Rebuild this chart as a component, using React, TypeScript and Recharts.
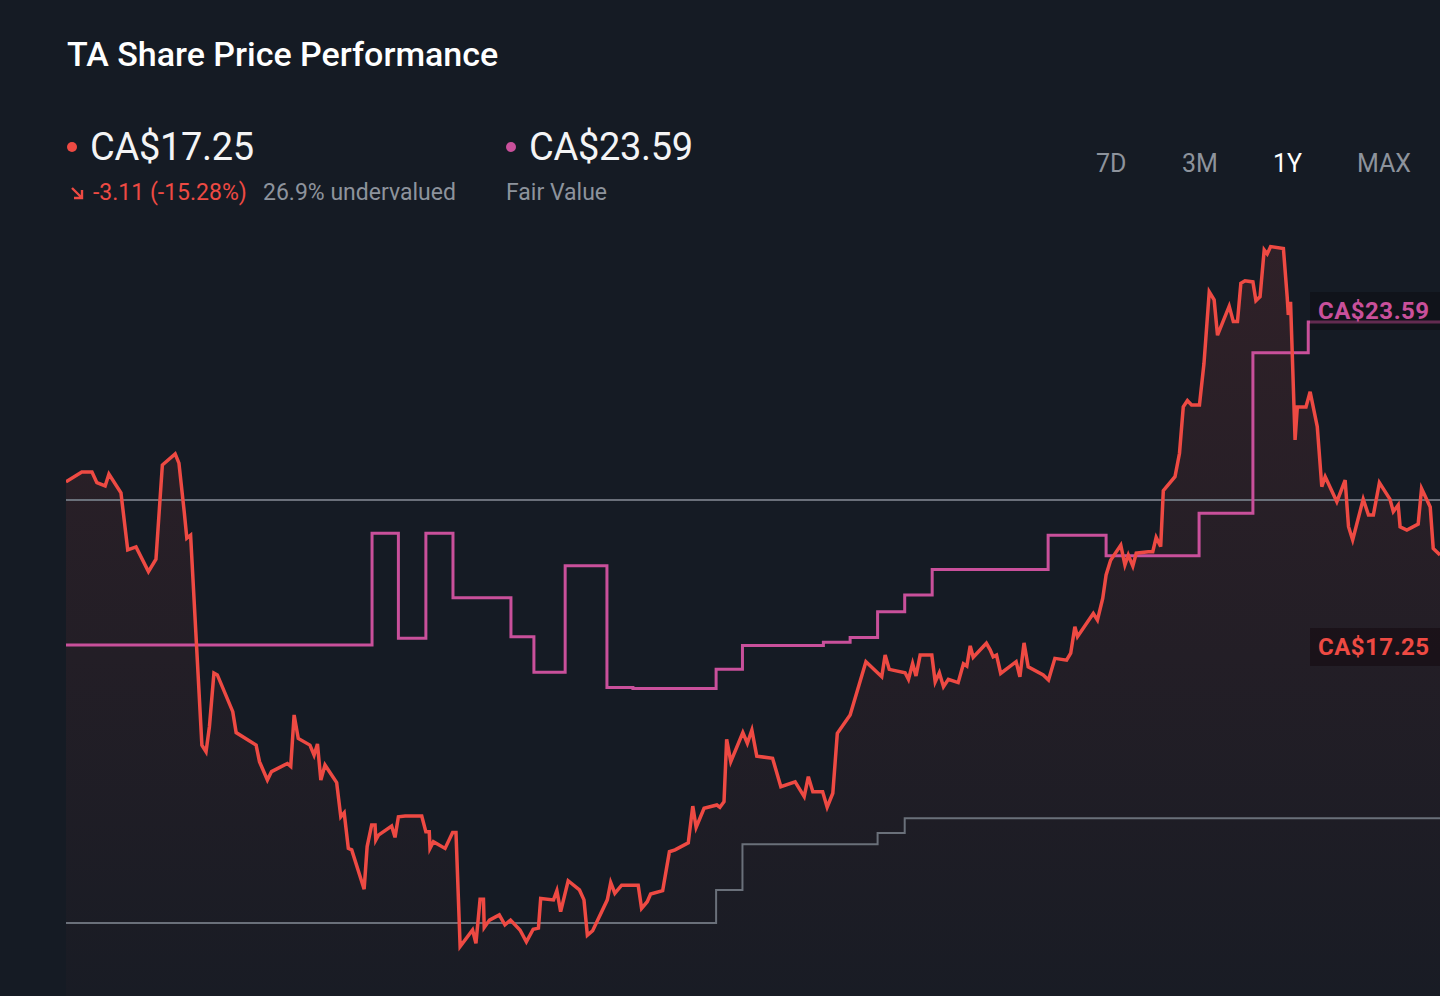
import { ComposedChart, Area, Line, XAxis, YAxis } from 'recharts';

// trading-day position (0..365) and close price, CA$
const priceDays = [
  0, 4.2, 6.9, 8.2, 10.4, 11.4, 14.6, 16.4, 18.6, 21.9,
  23.9, 25.6, 29.0, 30.0, 31.4, 32.1, 33.1, 36.1, 37.2, 38.1,
  39.3, 40.2, 44.3, 45.2, 50.5, 51.4, 53.5, 54.6, 58.8, 59.7,
  60.6, 61.7, 64.8, 65.9, 66.8, 67.7, 68.8, 71.9, 73.0, 73.9,
  75.0, 75.9, 79.2, 80.0, 81.2, 82.1, 82.3, 83.0, 86.5, 87.4,
  88.3, 90.1, 94.5, 95.6, 96.5, 96.7, 97.6, 100.7, 102.7, 103.6,
  104.7, 108.0, 108.9, 110.0, 110.9, 111.1, 112.5, 115.1, 116.6, 118.1,
  120.6, 122.3, 124.1, 125.5, 126.1, 129.5, 130.4, 131.4, 133.4, 136.4,
  137.6, 138.5, 139.9, 143.8, 144.7, 145.8, 147.6, 152.0, 152.9, 154.4,
  155.3, 158.5, 160.3, 161.8, 165.3, 166.5, 167.4, 169.5, 172.9, 173.7,
  174.8, 175.5, 176.6, 179.8, 181.0, 182.2, 183.5, 187.7, 189.9, 193.7,
  196.1, 197.2, 198.4, 201.0, 202.2, 203.7, 204.9, 208.3, 212.5, 216.7,
  217.6, 218.7, 222.9, 223.8, 224.9, 225.8, 226.9, 230.0, 230.9, 232.0,
  233.1, 234.4, 237.0, 238.4, 239.3, 240.2, 241.0, 244.5, 245.5, 246.3,
  247.2, 248.3, 252.4, 253.4, 254.5, 255.6, 259.6, 261.0, 262.7, 265.8,
  266.9, 268.0, 268.7, 272.9, 274.0, 275.4, 276.3, 277.5, 280.2, 281.3,
  282.2, 283.4, 284.3, 287.5, 288.7, 289.6, 290.8, 291.5, 294.6, 295.8,
  296.8, 297.9, 299.0, 301.1, 302.3, 303.7, 305.0, 305.9, 309.0, 310.1,
  311.2, 312.1, 313.2, 315.3, 316.1, 317.2, 318.3, 319.1, 320.0, 323.4,
  324.4, 324.7, 325.3, 326.5, 327.1, 329.4, 330.5, 332.4, 333.6, 334.5,
  337.6, 339.8, 340.7, 341.8, 344.6, 346.0, 347.3, 348.9, 351.7, 352.6,
  353.9, 354.4, 356.2, 359.2, 360.1, 362.4, 363.2, 365,
];

const priceValues = [
  19.24, 19.51, 19.51, 19.22, 19.13, 19.45, 18.94, 17.39, 17.47, 16.80,
  17.14, 19.70, 20.00, 19.75, 18.43, 17.71, 17.79, 12.08, 11.90, 12.58,
  14.04, 13.99, 12.99, 12.42, 12.08, 11.63, 11.13, 11.36, 11.58, 11.50,
  12.90, 12.26, 12.08, 11.81, 12.11, 11.13, 11.54, 11.06, 10.13, 10.24,
  9.27, 9.23, 8.16, 9.32, 9.91, 9.91, 9.50, 9.63, 9.88, 9.57,
  10.13, 10.15, 10.15, 9.72, 9.72, 9.27, 9.45, 9.27, 9.70, 9.70,
  6.60, 7.05, 6.69, 7.89, 7.89, 7.12, 7.32, 7.46, 7.19, 7.32,
  7.05, 6.73, 7.07, 7.10, 7.91, 7.87, 8.12, 7.55, 8.39, 8.14,
  7.87, 6.91, 7.03, 7.87, 8.34, 8.05, 8.27, 8.27, 7.64, 7.82,
  8.03, 8.12, 9.18, 9.23, 9.42, 10.42, 9.84, 10.36, 10.45, 10.39,
  10.54, 12.24, 11.63, 12.42, 12.13, 12.49, 11.78, 11.72, 10.95, 11.08,
  10.68, 11.22, 10.81, 10.81, 10.39, 10.77, 12.40, 12.90, 14.35, 13.94,
  14.53, 14.14, 14.05, 13.87, 14.30, 13.96, 14.53, 14.53, 13.80, 14.05,
  13.67, 13.87, 13.78, 14.29, 14.23, 14.78, 14.47, 14.85, 14.67, 14.48,
  14.53, 14.03, 14.35, 13.94, 14.86, 14.21, 13.99, 13.85, 14.44, 14.39,
  14.58, 15.30, 15.03, 15.66, 15.48, 16.07, 16.71, 17.11, 17.52, 16.98,
  17.25, 16.95, 17.30, 17.34, 17.34, 17.73, 17.48, 19.00, 19.38, 20.02,
  21.28, 21.45, 21.33, 21.33, 22.46, 24.41, 24.19, 23.23, 24.02, 23.60,
  23.60, 24.64, 24.71, 24.68, 24.17, 24.28, 25.55, 25.44, 25.64, 25.59,
  24.28, 23.78, 24.14, 20.38, 21.28, 21.28, 21.69, 20.74, 19.11, 19.38,
  18.70, 19.29, 18.02, 17.66, 18.77, 18.34, 18.34, 19.22, 18.77, 18.43,
  18.61, 18.02, 17.93, 18.09, 19.06, 18.56, 17.43, 17.25,
];

// fair value estimate, changes on these days
const fairDays = [0, 81.3, 88.3, 95.6, 102.8, 118.2, 124.3, 132.6, 143.7, 150.6, 172.7, 179.7, 201.2, 208.3, 215.6, 222.8, 230.1, 260.9, 276.3, 301.0, 315.3, 330.0, 365];
const fairValues = [14.80, 17.84, 14.99, 17.84, 16.09, 15.03, 14.06, 16.96, 13.65, 13.62, 14.14, 14.79, 14.88, 15.01, 15.71, 16.16, 16.86, 17.79, 17.23, 18.39, 22.75, 23.59, 23.59];

// lower gray band
const floorDays = [0, 172.7, 179.7, 215.6, 222.8, 365];
const floorValues = [7.24, 8.14, 9.38, 9.69, 10.09, 10.09];

// upper gray level
const levelDays = [0, 365];
const levelValues = [18.75, 18.75];

const periods = ['7D', '3M', '1Y', 'MAX'];
const activePeriod = '1Y';

const priceData = priceDays.map((day, i) => ({ day, price: priceValues[i] }));
const fairData = fairDays.map((day, i) => ({ day, value: fairValues[i] }));
const floorData = floorDays.map((day, i) => ({ day, value: floorValues[i] }));
const levelData = levelDays.map((day, i) => ({ day, value: levelValues[i] }));

const BG = '#151b24';
const RED = '#ee4a43';
const PINK = '#c9509b';
const GRAY = '#6a707a';
const MUTED = '#8d939c';
const FONT = 'Roboto, "Noto Sans", sans-serif';

const tagStyle = {
  position: 'absolute' as const,
  left: 1310,
  width: 130,
  height: 38,
  fontSize: 24,
  fontWeight: 700,
  lineHeight: '38px',
  paddingLeft: 8,
  letterSpacing: 0.5,
  boxSizing: 'border-box' as const,
};

export default function App() {
  return (
    <div style={{ position: 'relative', width: 1440, height: 996, background: BG, overflow: 'hidden', fontFamily: FONT }}>
      <style>{'body{margin:0}'}</style>

      <div style={{ position: 'absolute', left: 67, top: 37, fontSize: 34, lineHeight: 1, fontWeight: 500, color: '#ffffff' }}>
        TA Share Price Performance
      </div>

      {/* price legend */}
      <div style={{ position: 'absolute', left: 67, top: 142, width: 10, height: 10, borderRadius: 5, background: RED }} />
      <div style={{ position: 'absolute', left: 90, top: 128, fontSize: 38, lineHeight: 1, color: '#f4f4f5', letterSpacing: -0.3 }}>CA$17.25</div>
      <svg style={{ position: 'absolute', left: 69, top: 185 }} width={16} height={16}>
        <path d="M3 3 L13 13 M13 5 V13 H5" stroke={RED} strokeWidth={2.4} fill="none" />
      </svg>
      <div style={{ position: 'absolute', left: 93, top: 181, fontSize: 23, lineHeight: 1, color: RED }}>-3.11 (-15.28%)</div>
      <div style={{ position: 'absolute', left: 263, top: 181, fontSize: 23, lineHeight: 1, color: MUTED }}>26.9% undervalued</div>

      {/* fair value legend */}
      <div style={{ position: 'absolute', left: 506, top: 142, width: 10, height: 10, borderRadius: 5, background: PINK }} />
      <div style={{ position: 'absolute', left: 529, top: 128, fontSize: 38, lineHeight: 1, color: '#f4f4f5', letterSpacing: -0.3 }}>CA$23.59</div>
      <div style={{ position: 'absolute', left: 506, top: 181, fontSize: 23, lineHeight: 1, color: MUTED }}>Fair Value</div>

      {/* period selector */}
      <div style={{ position: 'absolute', left: 1096, top: 151, display: 'flex' }}>
        {periods.map((p) => (
          <div key={p} style={{ width: p === '7D' ? 86 : p === '3M' ? 91 : 84, fontSize: 25, lineHeight: 1, color: p === activePeriod ? '#ffffff' : MUTED }}>
            {p}
          </div>
        ))}
      </div>

      <div style={{ position: 'absolute', left: 66, top: 215 }}>
        <ComposedChart width={1374} height={781} data={priceData} margin={{ top: 0, right: 0, bottom: 0, left: 0 }}>
          <defs>
            <linearGradient id="priceFill" x1="0" y1="0" x2="0" y2="1">
              <stop offset="0%" stopColor={RED} stopOpacity={0.2} />
              <stop offset="100%" stopColor={RED} stopOpacity={0.03} />
            </linearGradient>
          </defs>
          <XAxis dataKey="day" type="number" domain={[0, 365]} hide />
          <YAxis type="number" domain={[5.255, 26.5]} hide />
          <Area dataKey="price" type="linear" stroke="none" fill="url(#priceFill)" isAnimationActive={false} />
          <Line data={levelData} dataKey="value" type="linear" stroke={GRAY} strokeWidth={2} dot={false} isAnimationActive={false} />
          <Line data={floorData} dataKey="value" type="stepAfter" stroke={GRAY} strokeWidth={2} dot={false} isAnimationActive={false} />
          <Line data={fairData} dataKey="value" type="stepAfter" stroke={PINK} strokeWidth={3} dot={false} isAnimationActive={false} />
          <Line dataKey="price" type="linear" stroke={RED} strokeWidth={3.5} strokeLinejoin="miter" dot={false} isAnimationActive={false} />
        </ComposedChart>
      </div>

      {/* end-of-line value tags */}
      <div style={{ ...tagStyle, top: 292, background: 'rgba(12,12,18,0.55)', color: PINK }}>CA$23.59</div>
      <div style={{ ...tagStyle, top: 628, background: 'rgba(20,10,14,0.55)', color: RED }}>CA$17.25</div>
    </div>
  );
}
